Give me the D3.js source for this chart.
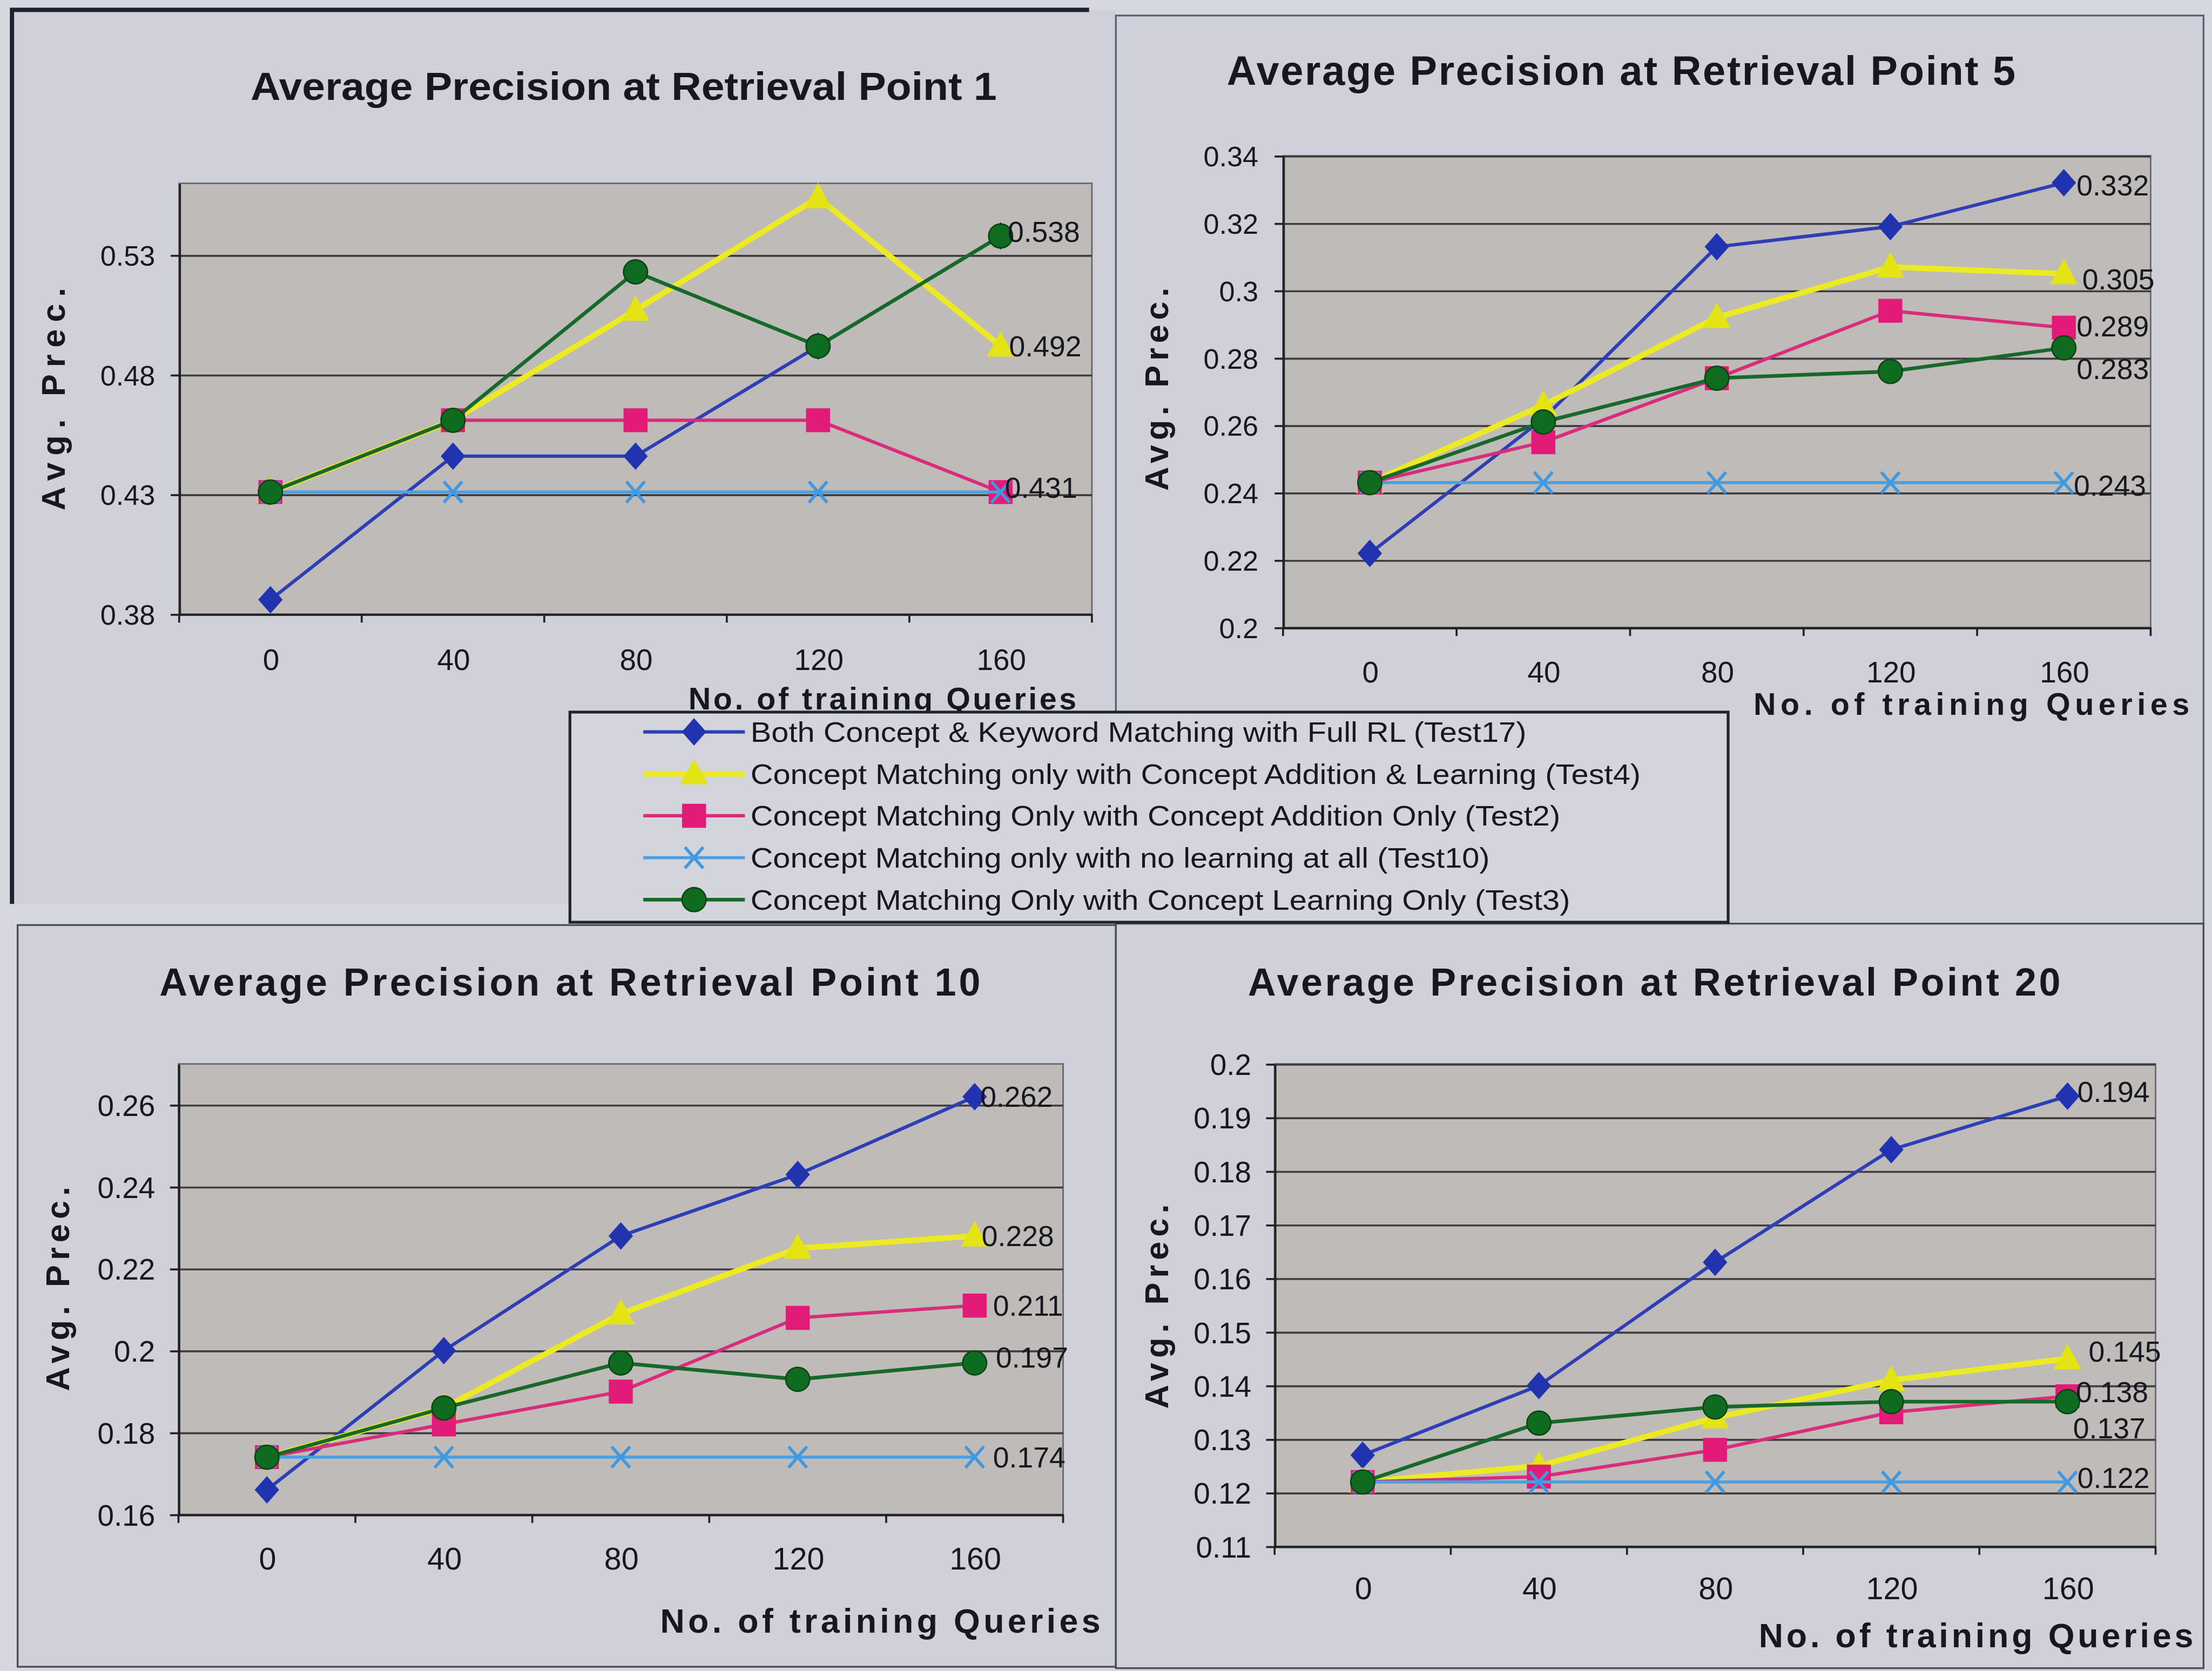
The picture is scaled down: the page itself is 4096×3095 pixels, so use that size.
<!DOCTYPE html>
<html>
<head>
<meta charset="utf-8">
<script src="https://cdn.jsdelivr.net/npm/d3@7"></script>
<style>
  html, body { margin: 0; padding: 0; background: #d6d6de; }
  svg { display: block; }
</style>
</head>
<body>
<svg id="fig"></svg>
<script>
// ---- data -------------------------------------------------------------
const categories = ["0", "40", "80", "120", "160"];

const seriesNames = [
  "Both Concept & Keyword Matching with Full RL (Test17)",
  "Concept Matching only with Concept Addition & Learning (Test4)",
  "Concept Matching Only with Concept Addition Only (Test2)",
  "Concept Matching only with no learning at all (Test10)",
  "Concept Matching Only with Concept Learning Only (Test3)"
];

const panelTitles = [
  "Average Precision at Retrieval Point 1",
  "Average Precision at Retrieval Point 5",
  "Average Precision at Retrieval Point 10",
  "Average Precision at Retrieval Point 20"
];

// one row per series, in the order of seriesNames
const rp1Values = [
  [0.386, 0.446, 0.446, 0.492, 0.538],
  [0.431, 0.461, 0.507, 0.554, 0.492],
  [0.431, 0.461, 0.461, 0.461, 0.431],
  [0.431, 0.431, 0.431, 0.431, 0.431],
  [0.431, 0.461, 0.523, 0.492, 0.538]
];
const rp5Values = [
  [0.222, 0.262, 0.313, 0.319, 0.332],
  [0.243, 0.266, 0.292, 0.307, 0.305],
  [0.243, 0.255, 0.274, 0.294, 0.289],
  [0.243, 0.243, 0.243, 0.243, 0.243],
  [0.243, 0.261, 0.274, 0.276, 0.283]
];
const rp10Values = [
  [0.166, 0.200, 0.228, 0.243, 0.262],
  [0.174, 0.186, 0.209, 0.225, 0.228],
  [0.174, 0.182, 0.190, 0.208, 0.211],
  [0.174, 0.174, 0.174, 0.174, 0.174],
  [0.174, 0.186, 0.197, 0.193, 0.197]
];
const rp20Values = [
  [0.127, 0.140, 0.163, 0.184, 0.194],
  [0.122, 0.125, 0.134, 0.141, 0.145],
  [0.122, 0.123, 0.128, 0.135, 0.138],
  [0.122, 0.122, 0.122, 0.122, 0.122],
  [0.122, 0.133, 0.136, 0.137, 0.137]
];

const rp1Ticks  = [0.38, 0.43, 0.48, 0.53];
const rp5Ticks  = [0.20, 0.22, 0.24, 0.26, 0.28, 0.30, 0.32, 0.34];
const rp10Ticks = [0.16, 0.18, 0.20, 0.22, 0.24, 0.26];
const rp20Ticks = [0.11, 0.12, 0.13, 0.14, 0.15, 0.16, 0.17, 0.18, 0.19, 0.20];

const xAxisTitle = "No. of training Queries";
const yAxisTitle = "Avg. Prec.";

// ---- styles -----------------------------------------------------------
const FONT = "'Liberation Sans', Arial, Helvetica, sans-serif";
const INK = "#17171f";
const PLOT_FILL = "#bfbbb9";
const GRID = "#3d3d3f";

const seriesStyle = [
  { line: "#2e3fb5", fill: "#2233b0", stroke: "#2233b0", width: 2.4, shape: "diamond" },
  { line: "#ecea22", fill: "#e4e314", stroke: "#e4e314", width: 4,   shape: "triangle" },
  { line: "#d92c7c", fill: "#e21a78", stroke: "#e21a78", width: 2.4, shape: "square" },
  { line: "#4c9fe0", fill: "none",    stroke: "#3f98e0", width: 2.2, shape: "cross" },
  { line: "#16692a", fill: "#0f6b1f", stroke: "#0a4414", width: 2.6, shape: "circle" }
];

function markerPath(shape) {
  switch (shape) {
    case "diamond":  return "M0,-9L8,0L0,9L-8,0Z";
    case "triangle": return "M0,-9.5L9,7L-9,7Z";
    case "square":   return "M-8,-8H8V8H-8Z";
    case "circle":   return d3.arc()({ innerRadius: 0, outerRadius: 8.5, startAngle: 0, endAngle: 2 * Math.PI });
    case "cross":    return "M-6.5,-7.5L6.5,7.5M-6.5,7.5L6.5,-7.5";
  }
}

// ---- canvas -----------------------------------------------------------
const W = 1568, H = 1185;
const svg = d3.select("#fig")
  .attr("viewBox", `0 0 ${W} ${H}`)
  .attr("width", 4096)
  .attr("height", 3095)
  .attr("preserveAspectRatio", "none")
  .style("font-family", FONT);

svg.append("rect").attr("width", W).attr("height", H).attr("fill", "#d7d7df");

// chart frames
const PANEL_FILL = "#d0d0da";
svg.append("rect").attr("x", 9).attr("y", 7).attr("width", 782).attr("height", 634).attr("fill", PANEL_FILL);
svg.append("path").attr("d", "M8.5,641V7H772").attr("fill", "none").attr("stroke", "#1c2230").attr("stroke-width", 3);
svg.append("rect").attr("x", 791).attr("y", 11).attr("width", 771).attr("height", 644)
  .attr("fill", PANEL_FILL).attr("stroke", "#5b6573").attr("stroke-width", 1.3);
svg.append("rect").attr("x", 12.5).attr("y", 656).attr("width", 778.5).attr("height", 526)
  .attr("fill", PANEL_FILL).attr("stroke", "#4a4f5a").attr("stroke-width", 1.3);
svg.append("rect").attr("x", 791).attr("y", 655).attr("width", 771).attr("height", 528)
  .attr("fill", PANEL_FILL).attr("stroke", "#4a4f5a").attr("stroke-width", 1.3);

// ---- panel layout -----------------------------------------------------
const panels = [
  { values: rp1Values, ticks: rp1Ticks, yMax: 0.56, title: panelTitles[0],
    x0: 127, x1: 774, y0: 130, y1: 435.5,
    titleX: 177.6, titleBase: 71, titleLen: 529, titleSize: 27.5, titleAdjust: "spacingAndGlyphs",
    yTitleX: 46, yTitleY: 283, yTitleLen: 158,
    xTitleX: 488, xTitleBase: 503, xTitleLen: 275, xTitleSize: 22,
    yLabelRight: 110, xLabelBase: 475, tickSize: 20,
    labels: [ { s: 4, dx: 5, dy: -3 }, { s: 1, dx: 6, dy: 0 }, { s: 2, dx: 3, dy: -3 } ] },
  { values: rp5Values, ticks: rp5Ticks, yMax: 0.34, title: panelTitles[1],
    x0: 909.5, x1: 1524.5, y0: 110.5, y1: 445,
    titleX: 869.7, titleBase: 60, titleLen: 559, titleSize: 29, titleAdjust: "spacing",
    yTitleX: 828, yTitleY: 276, yTitleLen: 144,
    xTitleX: 1243, xTitleBase: 507, xTitleLen: 309, xTitleSize: 22,
    yLabelRight: 892, xLabelBase: 484, tickSize: 20,
    labels: [ { s: 0, dx: 9, dy: 2 }, { s: 1, dx: 13, dy: 4 }, { s: 2, dx: 9, dy: -1 },
              { s: 4, dx: 9, dy: 15 }, { s: 3, dx: 7, dy: 2 } ] },
  { values: rp10Values, ticks: rp10Ticks, yMax: 0.27, title: panelTitles[2],
    x0: 126.5, x1: 753.6, y0: 754.5, y1: 1074,
    titleX: 113, titleBase: 706, titleLen: 582, titleSize: 27.5, titleAdjust: "spacing",
    yTitleX: 49, yTitleY: 914, yTitleLen: 145,
    xTitleX: 468, xTitleBase: 1158, xTitleLen: 312, xTitleSize: 24,
    yLabelRight: 110, xLabelBase: 1113, tickSize: 21,
    labels: [ { s: 0, dx: 4, dy: 0 }, { s: 1, dx: 5, dy: 0 }, { s: 2, dx: 13, dy: 0 },
              { s: 4, dx: 15, dy: -4 }, { s: 3, dx: 13, dy: 0 } ] },
  { values: rp20Values, ticks: rp20Ticks, yMax: 0.20, title: panelTitles[3],
    x0: 903.5, x1: 1528, y0: 754.5, y1: 1096.6,
    titleX: 884.6, titleBase: 706, titleLen: 576, titleSize: 27.5, titleAdjust: "spacing",
    yTitleX: 828, yTitleY: 926.5, yTitleLen: 145,
    xTitleX: 1246.7, xTitleBase: 1168, xTitleLen: 308, xTitleSize: 24,
    yLabelRight: 887, xLabelBase: 1134, tickSize: 21,
    labels: [ { s: 0, dx: 7, dy: -3 }, { s: 1, dx: 15, dy: -5 }, { s: 2, dx: 6, dy: -3 },
              { s: 4, dx: 4, dy: 19 }, { s: 3, dx: 7, dy: -3 } ] }
];

const tickFmt = d => String(parseFloat(d.toFixed(2)));
const labelFmt = d3.format(".3f");

function drawPanel(p) {
  const g = svg.append("g");
  const plotW = p.x1 - p.x0;

  const x = d3.scalePoint().domain(categories).range([p.x0, p.x1]).padding(0.5);
  const band = d3.scaleBand().domain(categories).range([p.x0, p.x1]);
  const y = d3.scaleLinear().domain([p.ticks[0], p.yMax]).range([p.y1, p.y0]);

  // plot area
  g.append("rect")
    .attr("x", p.x0).attr("y", p.y0).attr("width", plotW).attr("height", p.y1 - p.y0)
    .attr("fill", PLOT_FILL).attr("stroke", "#6b6a6a").attr("stroke-width", 1.1);

  // horizontal gridlines
  g.append("g")
    .attr("transform", `translate(${p.x0},0)`)
    .call(d3.axisLeft(y).tickValues(p.ticks.slice(1)).tickSize(-plotW).tickSizeOuter(0).tickFormat(""))
    .call(s => {
      s.select(".domain").remove();
      s.selectAll("line").attr("stroke", GRID).attr("stroke-width", 1.4);
    });

  // value axis
  const ya = g.append("g")
    .attr("transform", `translate(${p.x0},0)`)
    .call(d3.axisLeft(y).tickValues(p.ticks).tickSize(6).tickSizeOuter(0).tickFormat(tickFmt));
  ya.select(".domain").attr("stroke", "#222").attr("stroke-width", 1.6);
  ya.selectAll(".tick line").attr("stroke", "#222").attr("stroke-width", 1.4);
  ya.selectAll(".tick text")
    .attr("x", p.yLabelRight - p.x0).attr("dy", "0.35em")
    .attr("font-family", FONT).attr("font-size", p.tickSize).attr("fill", INK);

  // category axis
  const xa = g.append("g")
    .attr("transform", `translate(0,${p.y1})`)
    .call(d3.axisBottom(x).tickSize(0).tickSizeOuter(0));
  xa.select(".domain").attr("stroke", "#222").attr("stroke-width", 1.6);
  xa.selectAll(".tick text")
    .attr("y", p.xLabelBase - p.y1).attr("dy", 0)
    .attr("font-family", FONT).attr("font-size", p.tickSize + 1).attr("fill", INK);

  // category tick marks sit on the band boundaries
  const bounds = categories.map(c => band(c)).concat([p.x1]);
  g.append("g").selectAll("line").data(bounds).join("line")
    .attr("x1", d => d).attr("x2", d => d)
    .attr("y1", p.y1).attr("y2", p.y1 + 6)
    .attr("stroke", "#222").attr("stroke-width", 1.4);

  // series lines then markers, in series order
  const line = d3.line().x((d, j) => x(categories[j])).y(d => y(d));
  p.values.forEach((row, i) => {
    const st = seriesStyle[i];
    const sg = g.append("g");
    sg.append("path").attr("d", line(row))
      .attr("fill", "none").attr("stroke", st.line).attr("stroke-width", st.width)
      .attr("stroke-linejoin", "round");
    sg.selectAll("path.mk").data(row).join("path").attr("class", "mk")
      .attr("transform", (d, j) => `translate(${x(categories[j])},${y(d)})`)
      .attr("d", markerPath(st.shape))
      .attr("fill", st.fill)
      .attr("stroke", st.stroke)
      .attr("stroke-width", st.shape === "cross" ? 2.2 : 1);
  });

  // value labels at the last category
  const last = categories[categories.length - 1];
  g.append("g").selectAll("text").data(p.labels).join("text")
    .attr("x", d => x(last) + d.dx)
    .attr("y", d => y(p.values[d.s][categories.length - 1]) + d.dy)
    .attr("dy", "0.35em")
    .attr("font-size", 20.5).attr("fill", INK)
    .text(d => labelFmt(p.values[d.s][categories.length - 1]));

  // titles
  g.append("text")
    .attr("x", p.titleX).attr("y", p.titleBase)
    .attr("font-size", p.titleSize).attr("font-weight", "bold").attr("fill", INK)
    .attr("textLength", p.titleLen).attr("lengthAdjust", p.titleAdjust)
    .text(p.title);

  g.append("text")
    .attr("transform", `translate(${p.yTitleX},${p.yTitleY}) rotate(-90)`)
    .attr("text-anchor", "middle")
    .attr("font-size", 23.5).attr("font-weight", "bold").attr("fill", INK)
    .attr("textLength", p.yTitleLen).attr("lengthAdjust", "spacing")
    .text(yAxisTitle);

  g.append("text")
    .attr("x", p.xTitleX).attr("y", p.xTitleBase)
    .attr("font-size", p.xTitleSize).attr("font-weight", "bold").attr("fill", INK)
    .attr("textLength", p.xTitleLen).attr("lengthAdjust", "spacing")
    .text(xAxisTitle);
}

panels.forEach(drawPanel);

// ---- legend -----------------------------------------------------------
const legendTextLen = [550, 631, 574, 524, 581];
const lg = svg.append("g");
lg.append("rect").attr("x", 404).attr("y", 505).attr("width", 821).attr("height", 149)
  .attr("fill", "#d4d4dd").attr("stroke", "#20222c").attr("stroke-width", 2);

const legendRow = d3.scalePoint().domain(d3.range(seriesNames.length)).range([519, 638]);
const items = lg.selectAll("g.item").data(seriesNames).join("g").attr("class", "item")
  .attr("transform", (d, i) => `translate(0,${legendRow(i)})`);
items.append("line").attr("x1", 456).attr("x2", 528)
  .attr("stroke", (d, i) => seriesStyle[i].line)
  .attr("stroke-width", (d, i) => seriesStyle[i].width);
items.append("path")
  .attr("transform", "translate(492,0)")
  .attr("d", (d, i) => markerPath(seriesStyle[i].shape))
  .attr("fill", (d, i) => seriesStyle[i].fill)
  .attr("stroke", (d, i) => seriesStyle[i].stroke)
  .attr("stroke-width", (d, i) => seriesStyle[i].shape === "cross" ? 2.2 : 1);
items.append("text")
  .attr("x", 532).attr("y", 7)
  .attr("font-size", 20).attr("fill", INK)
  .attr("textLength", (d, i) => legendTextLen[i]).attr("lengthAdjust", "spacingAndGlyphs")
  .text(d => d);
</script>
</body>
</html>
